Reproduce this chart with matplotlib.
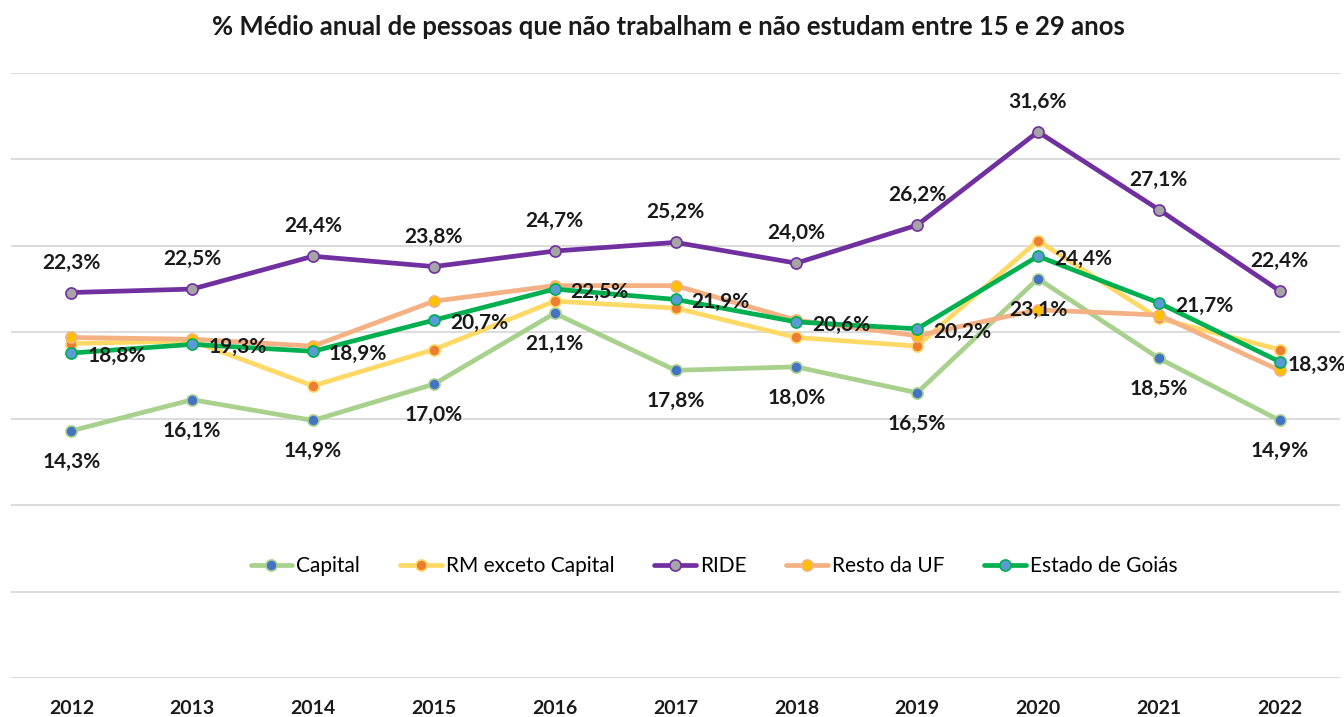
import matplotlib
matplotlib.use("Agg")
import matplotlib.pyplot as plt
import numpy as np

years = ["2012", "2013", "2014", "2015", "2016", "2017", "2018", "2019", "2020", "2021", "2022"]
capital = [14.3, 16.1, 14.9, 17.0, 21.1, 17.8, 18.0, 16.5, 23.1, 18.5, 14.9]
rm_exceto = [19.35, 19.5, 16.9, 19.0, 21.8, 21.4, 19.7, 19.2, 25.3, 20.8, 19.0]
ride = [22.3, 22.5, 24.4, 23.8, 24.7, 25.2, 24.0, 26.2, 31.6, 27.1, 22.4]
resto_uf = [19.7, 19.6, 19.2, 21.8, 22.7, 22.7, 20.7, 19.8, 21.3, 21.0, 17.8]
goias = [18.8, 19.3, 18.9, 20.7, 22.5, 21.9, 20.6, 20.2, 24.4, 21.7, 18.3]

title = "% Médio anual de pessoas que não trabalham e não estudam entre 15 e 29 anos"

plt.rcParams['font.family'] = ['Lato', 'DejaVu Sans']

fig = plt.figure(figsize=(13.44, 7.17), dpi=100)
ax = fig.add_axes([11/1344, 1 - 678/717, 1329/1344, (678 - 73)/717])

x = np.arange(len(years))
series = [
    ("Capital", capital, "#A9D18E", "#4472C4", "below"),
    ("RM exceto Capital", rm_exceto, "#FFD966", "#ED7D31", None),
    ("RIDE", ride, "#7030A0", "#A5A5A5", "above"),
    ("Resto da UF", resto_uf, "#F4B183", "#FFC000", None),
    ("Estado de Goiás", goias, "#00B050", "#5B9BD5", "right"),
]

handles = []
for i, (name, vals, lc, mc, pos) in enumerate(series):
    h, = ax.plot(x, vals, color=lc, lw=3.4, marker='o', markersize=8,
                 markerfacecolor=mc, markeredgecolor=lc, markeredgewidth=1.2,
                 label=name, zorder=3 + i, solid_capstyle='round')
    handles.append(h)

lab_fs = 15
n = len(years)
for name, vals, lc, mc, pos in series:
    if pos is None:
        continue
    for xi, v in zip(x, vals):
        txt = f"{v:.1f}%".replace(".", ",")
        if pos == "above":
            off, ha = (0, 30), "center"
        elif pos == "below":
            off, ha = (0, -31), "center"
        else:
            off, ha = ((16, -3) if xi < n - 1 else (8, -3)), "left"
        ax.annotate(txt, (xi, v), xytext=off, textcoords="offset pixels",
                    ha=ha, va="center", fontsize=lab_fs, fontweight="bold",
                    color="#1a1a1a", zorder=20)

ax.set_xlim(-0.5, n - 0.5)
ax.set_ylim(0, 35)
ax.set_yticks(np.arange(0, 36, 5))
ax.yaxis.grid(True, color="#D9D9D9", lw=1.3)
ax.set_axisbelow(True)
ax.tick_params(axis="y", left=False, labelleft=False)
ax.tick_params(axis="x", bottom=False, pad=12)
ax.set_xticks(x)
ax.set_xticklabels(years, fontsize=14, fontweight="bold", color="#1a1a1a")
for s in ax.spines.values():
    s.set_visible(False)

fig.text(668/1344, 1 - 27/717, title, ha="center", va="center",
         fontsize=18.5, fontweight="bold", color="#1a1a1a")

fig.legend(handles=handles, loc="center", bbox_to_anchor=(714/1344, 1 - 566/717),
           ncol=5, frameon=False, fontsize=15, handlelength=2.0, columnspacing=1.9,
           handletextpad=0.2)

fig.savefig("out.png", dpi=100, facecolor="white")
